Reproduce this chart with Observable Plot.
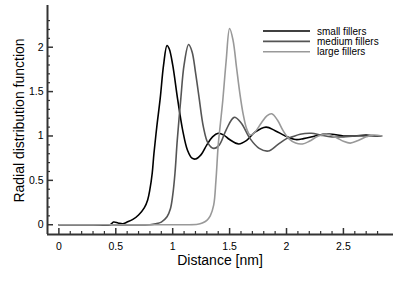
<!DOCTYPE html>
<html>
<head>
<meta charset="utf-8">
<script src="https://cdn.jsdelivr.net/npm/d3@7"></script>
<script src="https://cdn.jsdelivr.net/npm/@observablehq/plot@0.6"></script>
<style>
  html, body { margin: 0; padding: 0; background: white; }
  #chart { width: 399px; height: 282px; }
</style>
</head>
<body>
<div id="chart"></div>
<script>
// ---- data ----
const seriesNames = ["small fillers", "medium fillers", "large fillers"];
const seriesColors = ["#000000", "#555555", "#999999"];

const smallX = [0, 0.3, 0.45, 0.48, 0.52, 0.56, 0.6, 0.65, 0.7, 0.75, 0.78, 0.8, 0.82, 0.835, 0.86, 0.89, 0.92, 0.95, 0.97, 1.0, 1.045, 1.09, 1.13, 1.17, 1.2, 1.25, 1.3, 1.35, 1.4, 1.45, 1.5, 1.58, 1.65, 1.72, 1.82, 1.9, 1.99, 2.08, 2.15, 2.25, 2.32, 2.4, 2.5, 2.6, 2.7, 2.78, 2.83];
const smallY = [0, 0, 0, 0.03, 0.02, 0.01, 0.03, 0.06, 0.11, 0.19, 0.28, 0.4, 0.58, 0.8, 1.1, 1.42, 1.8, 2.02, 1.98, 1.8, 1.4, 1.05, 0.84, 0.75, 0.74, 0.79, 0.9, 0.99, 1.03, 1.01, 0.96, 0.91, 0.95, 1.04, 1.1, 1.06, 1.0, 0.96, 0.97, 1.0, 1.02, 1.02, 1.0, 1.0, 1.01, 1.0, 1.0];

const mediumX = [0, 0.4, 0.8, 0.85, 0.9, 0.95, 0.98, 1.0, 1.02, 1.04, 1.07, 1.1, 1.14, 1.17, 1.2, 1.23, 1.27, 1.31, 1.36, 1.41, 1.47, 1.54, 1.6, 1.68, 1.76, 1.84, 1.92, 2.0, 2.05, 2.12, 2.22, 2.3, 2.4, 2.5, 2.6, 2.7, 2.83];
const mediumY = [0, 0, 0, 0.01, 0.03, 0.09, 0.18, 0.33, 0.58, 0.95, 1.4, 1.8, 2.03, 1.95, 1.72, 1.45, 1.1, 0.92, 0.86, 0.9, 1.07, 1.21, 1.15, 0.97, 0.86, 0.83, 0.9, 0.97, 0.99, 1.02, 1.03, 1.01, 0.99, 0.99, 1.0, 1.0, 1.0];

const largeX = [0, 0.6, 1.1, 1.22, 1.26, 1.3, 1.33, 1.36, 1.38, 1.4, 1.42, 1.44, 1.47, 1.5, 1.53, 1.56, 1.59, 1.62, 1.65, 1.68, 1.72, 1.78, 1.83, 1.87, 1.92, 1.97, 2.02, 2.08, 2.14, 2.2, 2.28, 2.36, 2.44, 2.5, 2.56, 2.63, 2.7, 2.76, 2.84];
const largeY = [0, 0, 0, 0.005, 0.02, 0.05, 0.1, 0.22, 0.5, 0.9, 1.15, 1.4, 1.85, 2.21, 2.08, 1.78, 1.48, 1.24, 1.08, 1.01, 1.04, 1.15, 1.23, 1.25, 1.18, 1.06, 0.97, 0.92, 0.91, 0.94, 1.0, 1.02, 0.98, 0.94, 0.92, 0.95, 0.99, 1.01, 1.0];

const xMajor = [0, 0.5, 1, 1.5, 2, 2.5];
const xMinor = [0.1,0.2,0.3,0.4,0.6,0.7,0.8,0.9,1.1,1.2,1.3,1.4,1.6,1.7,1.8,1.9,2.1,2.2,2.3,2.4,2.6,2.7,2.8];
const yMajor = [0, 0.5, 1, 1.5, 2];
const yMinor = [0.1,0.2,0.3,0.4,0.6,0.7,0.8,0.9,1.1,1.2,1.3,1.4,1.6,1.7,1.8,1.9,2.1,2.2,2.3];
const xDomain = [-0.1, 2.94];
const yDomain = [-0.11, 2.47];
const xTitle = "Distance [nm]";
const yTitle = "Radial distribution function";

// ---- build table ----
const rows = [];
[[smallX, smallY], [mediumX, mediumY], [largeX, largeY]].forEach(([xs, ys], i) => {
  xs.forEach((x, j) => rows.push({series: seriesNames[i], x, y: ys[j]}));
});

const W = 399, H = 282;
const mL = 47, mR = 6, mT = 5, mB = 48;
const plotW = W - mL - mR, plotH = H - mT - mB;
const axisColor = "#333333";
const font = "'Liberation Sans', Arial, Helvetica, sans-serif";

const chart = Plot.plot({
  width: W, height: H,
  marginLeft: mL, marginRight: mR, marginTop: mT, marginBottom: mB,
  style: {fontFamily: font, fontSize: "10.5px", background: "white", color: "black"},
  x: {domain: xDomain},
  y: {domain: yDomain},
  color: {domain: seriesNames, range: seriesColors},
  marks: [
    Plot.line(rows, {x: "x", y: "y", z: "series", stroke: "series", strokeWidth: 1.6, curve: "catmull-rom"}),
    Plot.ruleY([yDomain[0]], {stroke: axisColor, strokeWidth: 2}),
    Plot.ruleX([xDomain[0]], {stroke: axisColor, strokeWidth: 2}),
    Plot.tickX(xMajor, {x: d => d, insetTop: plotH - 6, stroke: axisColor, strokeWidth: 1.5}),
    Plot.tickX(xMinor, {x: d => d, insetTop: plotH - 3, stroke: axisColor, strokeWidth: 1.2}),
    Plot.tickY(yMajor, {y: d => d, insetRight: plotW - 6, stroke: axisColor, strokeWidth: 1.5}),
    Plot.tickY(yMinor, {y: d => d, insetRight: plotW - 3, stroke: axisColor, strokeWidth: 1.2}),
    Plot.axisX(xMajor, {tickSize: 0, tickPadding: 8, tickFormat: d => String(d), label: null}),
    Plot.axisY(yMajor, {tickSize: 0, tickPadding: 4, tickFormat: d => String(d), label: null})
  ]
});

const svg = d3.select(chart);
// axis titles
svg.append("text")
  .attr("x", mL + plotW / 2).attr("y", 265)
  .attr("text-anchor", "middle")
  .attr("font-family", font).attr("font-size", 14).attr("fill", "black")
  .text(xTitle);
svg.append("text")
  .attr("transform", `translate(24, ${120.5}) rotate(-90)`)
  .attr("text-anchor", "middle")
  .attr("font-family", font).attr("font-size", 14).attr("fill", "black")
  .text(yTitle);

// legend
const lg = svg.append("g").attr("text-anchor", "start");
seriesNames.forEach((name, i) => {
  const yy = 31 + i * 10.4;
  lg.append("line").attr("x1", 263).attr("x2", 310).attr("y1", yy).attr("y2", yy)
    .attr("stroke", seriesColors[i]).attr("stroke-width", 1.6);
  lg.append("text").attr("x", 317).attr("y", yy + 3.5)
    .attr("text-anchor", "start")
    .attr("font-family", font).attr("font-size", 10).attr("fill", "black")
    .text(name);
});

document.getElementById("chart").appendChild(chart);
</script>
</body>
</html>
